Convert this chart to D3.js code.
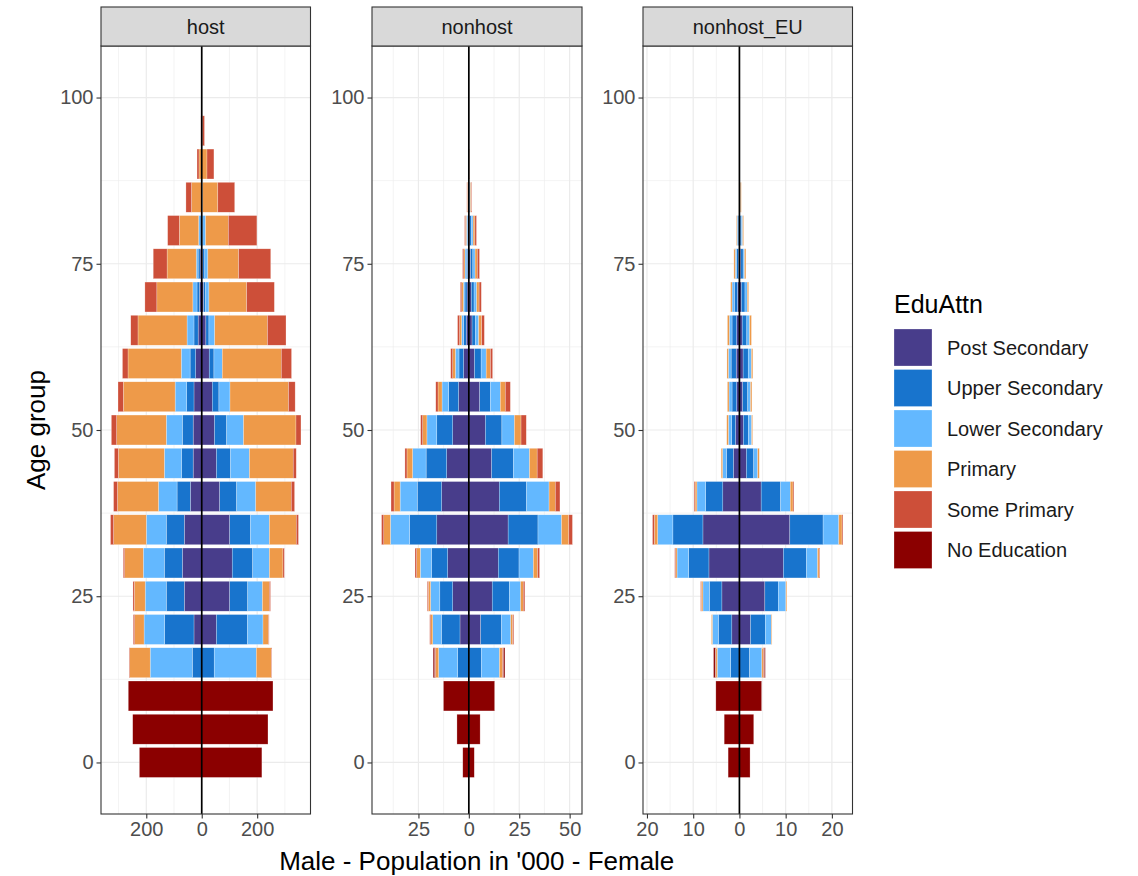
<!DOCTYPE html>
<html>
<head>
<meta charset="utf-8">
<script src="https://cdn.jsdelivr.net/npm/d3@7"></script>
<style>
  body { margin: 0; background: #fff; }
  text { font-family: "Liberation Sans", Arial, sans-serif; }
</style>
</head>
<body>
<svg id="chart" width="1138" height="876"></svg>
<script>
// age groups (lower bound of 5-year band)
const ages = [0,5,10,15,20,25,30,35,40,45,50,55,60,65,70,75,80,85,90,95,100]

// stacking order, from the centre line outward
const categories = ["Post Secondary","Upper Secondary","Lower Secondary","Primary","Some Primary","No Education"]
const colors = ["#483D8B","#1874CD","#63B8FF","#EE9A49","#CD4F39","#8B0000"]

// each row: one age group, values in '000 for [Post, Upper, Lower, Primary, Some Primary, No Edu]
const hostMale = [
  [0,0,0,0,0,225],[0,0,0,0,0,249],[0,0,0,0,0,265],[0,34,152,74,2,0],[28,106,74,34,5,0],
  [63,65,76,39,5,0],[70,65,76,67,5,0],[63,65,72,118,11,0],[41,48,67,148,14,0],[31,42,62,166,14,0],
  [31,39,58,179,19,0],[28,26,42,187,19,0],[22,20,32,192,20,0],[13,15,25,177,26,0],[8,9,15,130,43,0],
  [6,7,7,105,50,0],[1,5,5,70,42,0],[0,0,2,35,20,0],[0,0,0,10,7,0],[0,0,0,1,2,0],[0,0,0,0,0,0]
]
const hostFemale = [
  [0,0,0,0,0,217],[0,0,0,0,0,239],[0,0,0,0,0,257],[0,45,152,54,2,0],[53,112,56,20,2,0],
  [101,65,53,25,4,0],[110,74,60,49,5,0],[101,75,68,97,8,0],[65,61,69,128,12,0],[53,51,68,158,11,0],
  [46,44,61,189,18,0],[38,24,40,211,24,0],[27,17,30,213,37,0],[15,11,21,190,67,0],[7,7,12,136,100,0],
  [4,7,11,111,116,0],[1,3,10,82,103,0],[0,1,2,55,61,0],[0,0,0,19,25,0],[0,0,0,2,8,0],[0,0,0,0,0,0]
]
const nonhostMale = [
  [0,0,0,0,0,3],[0,0,0,0,0,5.9],[0,0,0,0,0,12.6],[0,5.6,9.4,1.5,0.5,0.7],[4.4,9.2,4.3,1,0.5,0],
  [8,6.4,4.6,1.1,0.5,0],[10.5,8,5.6,1.8,0.8,0],[15.9,13.5,9.5,3.3,1.1,0],[13.5,12.1,8.5,3,1.5,0],[11,10.2,6.7,2.8,1,0],
  [8,7.9,4.9,2.1,1,0],[5.1,4.9,3.3,2,1.1,0],[2.6,2.3,1.8,1.3,1,0],[1.3,1.3,1,1,1,0],[0.9,1,0.8,0.8,0.7,0],
  [0.6,0.7,0.6,0.6,0.6,0],[0.3,0.4,0.5,0.5,0.4,0],[0.1,0.2,0.2,0.3,0.2,0],[0,0,0,0.1,0.1,0],[0,0,0,0,0,0],[0,0,0,0,0,0]
]
const nonhostFemale = [
  [0,0,0,0,0,2.7],[0,0,0,0,0,5.6],[0,0,0,0,0,12.8],[0,6.2,9,1.5,0.5,0.7],[5.9,10.3,4.6,1,0.5,0],
  [11.6,8.5,5.6,1.3,0.8,0],[14.6,10.3,7.1,2.1,1,0],[19.5,14.8,11.7,3.6,1.8,0],[15.1,13.5,11.2,3.1,2.3,0],[11.3,10.8,8,3.8,2.8,0],
  [8.2,8.2,6.2,3.3,2.6,0],[5.4,5.3,4.9,2.5,2.5,0],[2.8,3.3,2.5,2.1,1.1,0],[1.6,1.7,1.6,1.5,1.3,0],[1.2,1.4,1.3,1.2,1.1,0],
  [0.9,1.1,1.1,1.1,1.1,0],[0.5,0.8,0.8,0.9,0.8,0],[0.2,0.3,0.3,0.4,0.3,0],[0,0.1,0.1,0.2,0.1,0],[0,0,0,0,0,0],[0,0,0,0,0,0]
]
const euMale = [
  [0,0,0,0,0,2.45],[0,0,0,0,0,3.3],[0,0,0,0,0,5.1],[0,1.9,2.9,0.3,0.15,0.35],[1.65,2.9,1.3,0.2,0,0],
  [3.8,2.7,1.4,0.35,0.15,0],[6.6,4.4,2.5,0.3,0.2,0],[7.9,6.5,3.3,0.7,0.4,0],[3.6,3.7,1.9,0.4,0.2,0],[1.3,1.5,0.85,0.3,0,0],
  [0.85,0.85,0.7,0.35,0,0],[0.6,1,0.65,0.35,0,0],[0.7,1.1,0.6,0.3,0,0],[0.6,1,0.6,0.4,0,0],[0.4,0.7,0.5,0.3,0,0],
  [0.2,0.4,0.3,0.3,0,0],[0.1,0.2,0.2,0.15,0,0],[0,0,0,0.1,0,0],[0,0,0,0,0,0],[0,0,0,0,0,0],[0,0,0,0,0,0]
]
const euFemale = [
  [0,0,0,0,0,2.3],[0,0,0,0,0,3.1],[0,0,0,0,0,4.8],[0,2.2,2.65,0.35,0.2,0.2],[2.4,3.2,1.3,0.15,0,0],
  [5.5,2.9,1.65,0.2,0,0],[9.5,5,2.4,0.35,0.15,0],[10.9,7.2,3.4,0.7,0.2,0],[4.7,4.2,2.1,0.6,0.2,0],[1.5,1.6,0.85,0.35,0,0],
  [0.85,1.1,0.7,0.2,0,0],[0.7,1.1,0.6,0.3,0,0],[0.8,1.1,0.7,0.3,0,0],[0.6,1,0.6,0.4,0,0],[0.4,0.8,0.5,0.3,0,0],
  [0.3,0.5,0.3,0.3,0,0],[0.15,0.3,0.25,0.2,0,0],[0,0.1,0.1,0.2,0,0],[0,0,0,0,0,0],[0,0,0,0,0,0],[0,0,0,0,0,0]
]

const panelNames = ["host","nonhost","nonhost_EU"]
const yTicks = [0,25,50,75,100]
const xTicks = [[-200,0,200],[-25,0,25,50],[-20,-10,0,10,20]]

const panels = [
  { name: panelNames[0], male: hostMale, female: hostFemale, ticks: xTicks[0], x0: 101, x1: 310.5 },
  { name: panelNames[1], male: nonhostMale, female: nonhostFemale, ticks: xTicks[1], x0: 372, x1: 582 },
  { name: panelNames[2], male: euMale, female: euFemale, ticks: xTicks[2], x0: 643, x1: 852.5 }
]

const plotTop = 46, plotBottom = 814, stripTop = 7
const barWidth = 4.5

const svg = d3.select("#chart")
svg.append("rect").attr("width", 1138).attr("height", 876).attr("fill", "#fff")

// y: continuous age, expanded 5% like ggplot
const yMin = -2.5, yMax = 102.5
const yPad = (yMax - yMin) * 0.05
const y = d3.scaleLinear().domain([yMin - yPad, yMax + yPad]).range([plotBottom, plotTop])

panels.forEach(p => {
    // build stacked segments
    let segs = []
    ages.forEach((a, i) => {
        let cm = 0, cf = 0
        categories.forEach((c, k) => {
            const vm = p.male[i][k], vf = p.female[i][k]
            if (vm > 0) { segs.push({ age: a, cat: k, from: -cm, to: -(cm + vm) }); cm += vm }
            if (vf > 0) { segs.push({ age: a, cat: k, from: cf, to: cf + vf }); cf += vf }
        })
    })
    const lo = d3.min(segs, d => Math.min(d.from, d.to))
    const hi = d3.max(segs, d => Math.max(d.from, d.to))
    const pad = (hi - lo) * 0.05
    const x = d3.scaleLinear().domain([lo - pad, hi + pad]).range([p.x0, p.x1])

    const g = svg.append("g")

    // panel background + grid
    g.append("rect").attr("x", p.x0).attr("y", plotTop).attr("width", p.x1 - p.x0).attr("height", plotBottom - plotTop).attr("fill", "#fff")

    const step = p.ticks[1] - p.ticks[0]
    let minorX = []
    for (let v = p.ticks[0] - step * 1.5; v <= x.domain()[1]; v += step)
        if (v >= x.domain()[0]) minorX.push(v)
    const minorY = [12.5, 37.5, 62.5, 87.5, -12.5].filter(v => v > y.domain()[0])

    g.selectAll(".mx").data(minorX).enter().append("line")
        .attr("x1", d => x(d)).attr("x2", d => x(d)).attr("y1", plotTop).attr("y2", plotBottom)
        .attr("stroke", "#EBEBEB").attr("stroke-width", 0.6)
    g.selectAll(".my").data(minorY).enter().append("line")
        .attr("y1", d => y(d)).attr("y2", d => y(d)).attr("x1", p.x0).attr("x2", p.x1)
        .attr("stroke", "#EBEBEB").attr("stroke-width", 0.6)
    g.selectAll(".Mx").data(p.ticks).enter().append("line")
        .attr("x1", d => x(d)).attr("x2", d => x(d)).attr("y1", plotTop).attr("y2", plotBottom)
        .attr("stroke", "#EBEBEB").attr("stroke-width", 1.2)
    g.selectAll(".My").data(yTicks).enter().append("line")
        .attr("y1", d => y(d)).attr("y2", d => y(d)).attr("x1", p.x0).attr("x2", p.x1)
        .attr("stroke", "#EBEBEB").attr("stroke-width", 1.2)

    // bars
    g.selectAll(".seg").data(segs).enter().append("rect")
        .attr("x", d => x(Math.min(d.from, d.to)))
        .attr("width", d => Math.abs(x(d.to) - x(d.from)))
        .attr("y", d => y(d.age + barWidth / 2))
        .attr("height", d => y(d.age - barWidth / 2) - y(d.age + barWidth / 2))
        .attr("fill", d => colors[d.cat])
        .attr("stroke", "#fff").attr("stroke-opacity", 0.5).attr("stroke-width", 0.5)

    // zero line
    g.append("line").attr("x1", x(0)).attr("x2", x(0)).attr("y1", plotTop).attr("y2", plotBottom)
        .attr("stroke", "#000").attr("stroke-width", 1.7)

    // border
    g.append("rect").attr("x", p.x0).attr("y", plotTop).attr("width", p.x1 - p.x0).attr("height", plotBottom - plotTop)
        .attr("fill", "none").attr("stroke", "#333333").attr("stroke-width", 1.1)

    // strip
    g.append("rect").attr("x", p.x0).attr("y", stripTop).attr("width", p.x1 - p.x0).attr("height", plotTop - stripTop)
        .attr("fill", "#D9D9D9").attr("stroke", "#333333").attr("stroke-width", 1.1)
    g.append("text").attr("x", (p.x0 + p.x1) / 2).attr("y", (stripTop + plotTop) / 2 + 7)
        .attr("text-anchor", "middle").attr("font-size", "20px").attr("fill", "#1A1A1A").text(p.name)

    // axes
    const xa = g.append("g").attr("transform", `translate(0,${plotBottom})`)
        .call(d3.axisBottom(x).tickValues(p.ticks).tickFormat(d => Math.abs(d)).tickSize(4.5).tickPadding(3))
    const ya = g.append("g").attr("transform", `translate(${p.x0},0)`)
        .call(d3.axisLeft(y).tickValues(yTicks).tickSize(4.5).tickPadding(3))
    ;[xa, ya].forEach(a => {
        a.select(".domain").remove()
        a.selectAll("line").attr("stroke", "#333333").attr("stroke-width", 1.1)
        a.selectAll("text").attr("fill", "#4D4D4D").attr("font-size", "20px")
            .attr("font-family", "'Liberation Sans', Arial, sans-serif")
    })
})

// axis titles
svg.append("text").attr("x", (101 + 852.5) / 2).attr("y", 870).attr("text-anchor", "middle")
    .attr("font-size", "26px").attr("fill", "#000").text("Male - Population in '000 - Female")
svg.append("text").attr("transform", `translate(45,${(plotTop + plotBottom) / 2}) rotate(-90)`)
    .attr("text-anchor", "middle").attr("font-size", "26px").attr("fill", "#000").text("Age group")

// legend
const lg = svg.append("g").attr("transform", "translate(894,0)")
lg.append("text").attr("x", 0).attr("y", 313).attr("font-size", "25px").attr("fill", "#000").text("EduAttn")
categories.forEach((c, k) => {
    const yy = 329 + k * 40.5
    lg.append("rect").attr("x", 0).attr("y", yy).attr("width", 38).attr("height", 37)
        .attr("fill", colors[k]).attr("stroke", "#fff").attr("stroke-opacity", 0.5).attr("stroke-width", 0.5)
    lg.append("text").attr("x", 53).attr("y", yy + 18.5).attr("dy", "0.36em")
        .attr("font-size", "20px").attr("fill", "#1A1A1A").text(c)
})
</script>
</body>
</html>
